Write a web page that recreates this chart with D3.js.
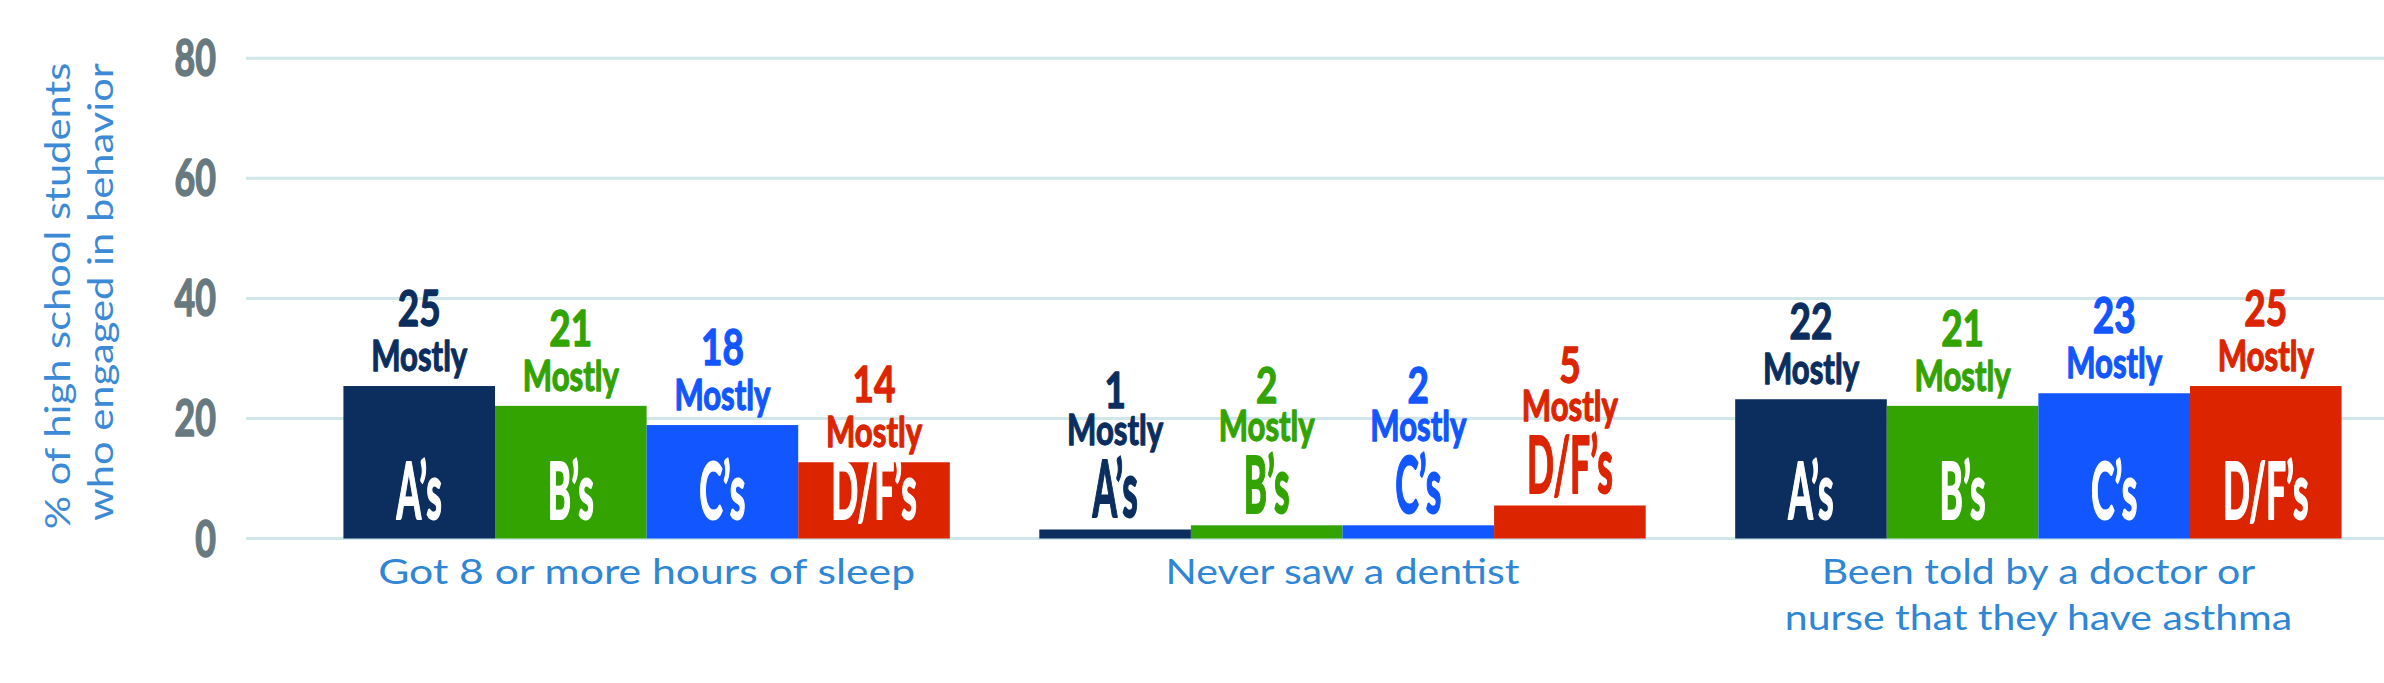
<!DOCTYPE html>
<html><head><meta charset="utf-8">
<script src="https://cdn.jsdelivr.net/npm/d3@7/dist/d3.min.js"></script>
<style>html,body{margin:0;padding:0;background:#fff;overflow:hidden}svg{display:block}</style>
</head><body>
<svg id="chart" width="2384" height="683"></svg>
<script>
// ---- data ----
const categories = ["Got 8 or more hours of sleep", "Never saw a dentist", "Been told by a doctor or nurse that they have asthma"];
const categoryLines = [["Got 8 or more hours of sleep"], ["Never saw a dentist"], ["Been told by a doctor or", "nurse that they have asthma"]];
const grades = ["A’s", "B’s", "C’s", "D/F’s"];
// bar heights (%)
const mostlyA  = [25.4, 1.5, 23.2];
const mostlyB  = [22.1, 2.2, 22.1];
const mostlyC  = [18.9, 2.2, 24.2];
const mostlyDF = [12.7, 5.5, 25.4];
// printed value labels
const labelA  = ["25", "1", "22"];
const labelB  = ["21", "2", "21"];
const labelC  = ["18", "2", "23"];
const labelDF = ["14", "5", "25"];
const yTicks = [0, 20, 40, 60, 80];
const yTitle = ["% of high school students", "who engaged in behavior"];
const mostlyWord = "Mostly";

// ---- setup ----
const W = 2384, H = 683;
const colors = ["#0b2e5f", "#32a300", "#1256ff", "#dc2400"];
const series = [mostlyA, mostlyB, mostlyC, mostlyDF];
const labels = [labelA, labelB, labelC, labelDF];
const svg = d3.select("#chart");

const y = d3.scaleLinear().domain([0, 80]).range([538.5, 58.3]);
const x0 = d3.scaleBand().domain(categories).range([246, 2439]).paddingInner(0.1286).paddingOuter(0.14);
const x1 = d3.scaleBand().domain(grades).range([0, x0.bandwidth()]).padding(0);

const FONT = "Lato, 'Open Sans', sans-serif";

function ctext(g, x, yy, str, size, sx, fill, weight, anchor, sw) {
  const t = g.append("text")
    .attr("transform", `translate(${x},${yy}) scale(${sx},1)`)
    .attr("text-anchor", anchor || "middle")
    .attr("font-family", FONT)
    .attr("font-weight", weight || "normal")
    .attr("font-size", size)
    .attr("fill", fill)
    .text(str);
  if (sw) t.attr("stroke", fill).attr("stroke-width", sw).attr("stroke-linejoin", "round");
  return t;
}

// gridlines
svg.append("g").selectAll("line").data(yTicks).join("line")
  .attr("x1", 246).attr("x2", W)
  .attr("y1", d => y(d)).attr("y2", d => y(d))
  .attr("stroke", "#d0e7ea").attr("stroke-width", 3);

// y tick labels
const yt = svg.append("g");
yTicks.forEach(t => ctext(yt, 216, y(t) + 18, String(t), 51, 0.70, "#687980", "bold", "end", 1.6));

// y title
const ytl = svg.append("g");
yTitle.forEach((line, i) => {
  ytl.append("text")
    .attr("transform", `translate(${[70, 113][i]},${[296, 292][i]}) rotate(-90) scale(1.19,1)`)
    .attr("text-anchor", "middle")
    .attr("font-family", FONT).attr("font-size", 35)
    .attr("fill", "#3c8ad6").text(line);
});

// bars
const groups = svg.append("g").selectAll("g").data(categories).join("g")
  .attr("transform", d => `translate(${x0(d)},0)`);

groups.each(function(cat, ci) {
  const g = d3.select(this);
  grades.forEach((gr, gi) => {
    const v = series[gi][ci];
    const top = y(v);
    const cx = x1(gr) + x1.bandwidth() / 2;
    g.append("rect")
      .attr("x", x1(gr)).attr("width", x1.bandwidth())
      .attr("y", top).attr("height", y(0) - top)
      .attr("fill", colors[gi]);
    const inside = (y(0) - top) > 50;
    let mostlyY;
    if (inside) {
      mostlyY = top - 15;
      ctext(g, cx, y(0) - 20, gr, 79, 0.45, "#ffffff", "bold", "middle", 2);
    } else {
      const gradeY = top - 12;
      mostlyY = gradeY - 72;
      ctext(g, cx, gradeY, gr, 79, 0.45, colors[gi], "bold", "middle", 2);
    }
    const gap = inside ? 45 : 38;
    // value + "Mostly" as one two-line label
    const t = g.append("text")
      .attr("transform", `translate(${cx},${mostlyY}) scale(0.74,1)`)
      .attr("text-anchor", "middle")
      .attr("font-family", FONT).attr("font-weight", "bold")
      .attr("fill", colors[gi])
      .attr("stroke", colors[gi]).attr("stroke-width", 1.3).attr("stroke-linejoin", "round");
    t.append("tspan").attr("x", 0).attr("y", -gap).attr("font-size", 50).text(labels[gi][ci]);
    t.append("tspan").attr("x", 0).attr("y", 0).attr("font-size", 42).text(mostlyWord);
  });
});

// x labels
const xl = svg.append("g");
const stretch = [1.22, 1.17, 1.17];
categories.forEach((cat, ci) => {
  const cx = x0(cat) + x0.bandwidth() / 2;
  const t = xl.append("text")
    .attr("transform", `translate(${cx},584) scale(${stretch[ci]},1)`)
    .attr("text-anchor", "middle")
    .attr("font-family", FONT).attr("font-size", 35)
    .attr("fill", "#2f86d5");
  categoryLines[ci].forEach((line, li) => {
    t.append("tspan").attr("x", 0).attr("y", li * 46).text(line);
  });
});
</script>
</body></html>
